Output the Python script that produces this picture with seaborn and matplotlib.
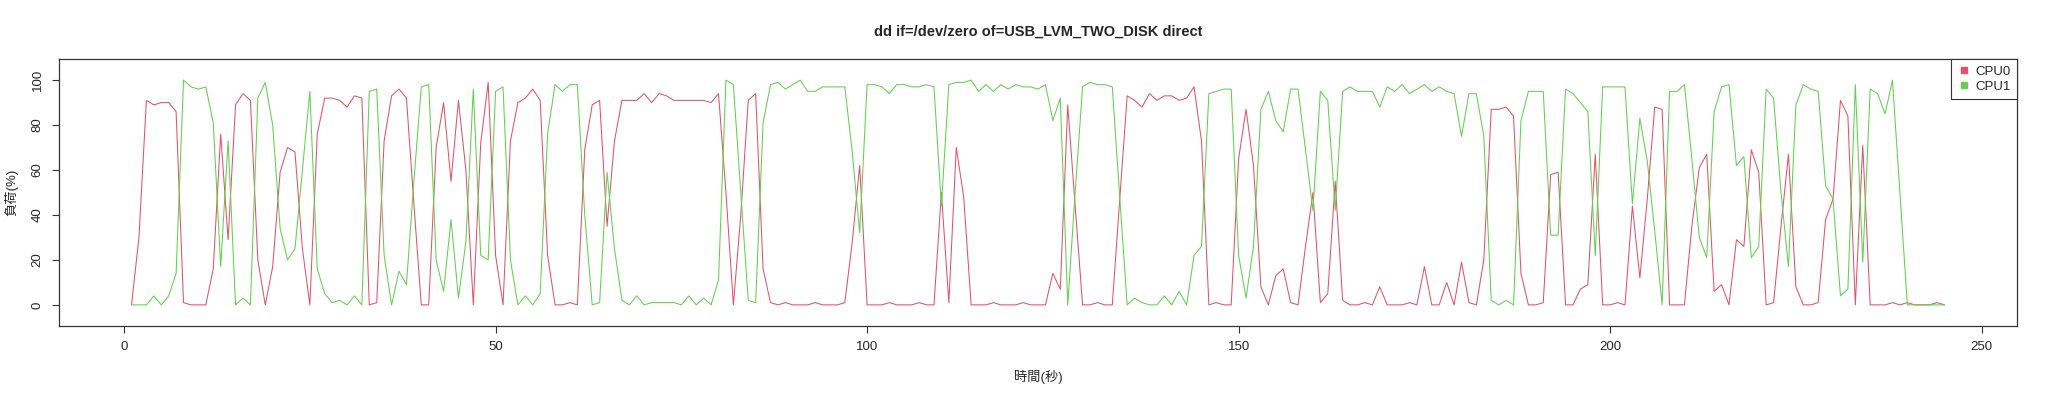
import numpy as np
import pandas as pd
import matplotlib
matplotlib.use("Agg")
import matplotlib.pyplot as plt
import seaborn as sns
from matplotlib.lines import Line2D

# 負荷データ (1秒ごと, %)
cpu0 = [0, 30, 91, 89, 90, 90, 86, 1, 0, 0, 0, 16, 76, 29, 89, 94, 91, 20, 0, 17,
        59, 70, 68, 25, 0, 76, 92, 92, 91, 88, 93, 92, 0, 1, 73, 93, 96, 92, 45, 0,
        0, 70, 90, 55, 91, 60, 0, 72, 99, 22, 0, 73, 90, 92, 96, 91, 22, 0, 0, 1,
        0, 69, 89, 91, 35, 73, 91, 91, 91, 94, 90, 94, 93, 91, 91, 91, 91, 91, 90, 94,
        50, 0, 40, 91, 94, 16, 1, 0, 1, 0, 0, 0, 1, 0, 0, 0, 1, 28, 62, 0,
        0, 0, 1, 0, 0, 0, 1, 0, 0, 50, 1, 70, 48, 0, 0, 0, 1, 0, 0, 0,
        1, 0, 0, 0, 14, 7, 89, 44, 0, 0, 1, 0, 0, 47, 93, 91, 88, 94, 91, 93,
        93, 91, 92, 97, 73, 0, 1, 0, 0, 65, 87, 62, 8, 0, 13, 16, 1, 0, 26, 50,
        1, 5, 55, 2, 0, 0, 1, 0, 8, 0, 0, 0, 1, 0, 17, 0, 0, 10, 0, 19,
        1, 0, 20, 87, 87, 88, 84, 14, 0, 0, 1, 58, 59, 0, 0, 7, 9, 67, 0, 0,
        1, 0, 44, 12, 47, 88, 87, 0, 0, 0, 35, 61, 67, 6, 9, 0, 29, 26, 69, 59,
        0, 1, 35, 67, 8, 0, 0, 1, 38, 47, 91, 84, 0, 71, 0, 0, 0, 1, 0, 1,
        0, 0, 0, 1, 0]
cpu1 = [0, 0, 0, 4, 0, 4, 14, 100, 97, 96, 97, 81, 17, 73, 0, 3, 0, 92, 99, 80,
        34, 20, 25, 60, 95, 16, 5, 1, 2, 0, 4, 0, 95, 96, 22, 0, 15, 9, 55, 97,
        98, 20, 6, 38, 3, 28, 96, 22, 20, 95, 97, 20, 0, 4, 0, 5, 76, 98, 95, 98,
        98, 40, 0, 1, 59, 25, 2, 0, 4, 0, 1, 1, 1, 1, 0, 4, 0, 3, 0, 11,
        100, 98, 50, 2, 1, 81, 98, 99, 96, 98, 100, 95, 95, 97, 97, 97, 97, 68, 32, 98,
        98, 97, 94, 98, 98, 97, 97, 98, 97, 44, 98, 99, 99, 100, 95, 98, 95, 98, 96, 98,
        97, 97, 96, 98, 82, 92, 0, 50, 97, 99, 98, 98, 97, 48, 0, 3, 1, 0, 0, 4,
        0, 6, 0, 22, 26, 94, 95, 96, 96, 22, 3, 26, 87, 95, 82, 77, 96, 96, 69, 42,
        95, 91, 42, 95, 97, 95, 95, 95, 88, 97, 95, 98, 94, 96, 98, 95, 97, 95, 94, 75,
        94, 94, 75, 2, 0, 2, 0, 82, 95, 95, 95, 31, 31, 96, 94, 90, 86, 22, 97, 97,
        97, 97, 45, 83, 64, 33, 0, 95, 95, 98, 65, 30, 21, 86, 97, 98, 62, 66, 21, 26,
        96, 92, 50, 17, 89, 98, 96, 95, 53, 47, 4, 7, 98, 19, 96, 94, 85, 100, 50, 0,
        0, 0, 0, 0, 0]
series = ["CPU0", "CPU1"]
colors = ["#DF536B", "#61D04F"]

t = np.arange(1, len(cpu0) + 1)
df = pd.DataFrame({"time": np.concatenate([t, t]),
                   "load": cpu0 + cpu1,
                   "cpu": ["CPU0"] * len(cpu0) + ["CPU1"] * len(cpu1)})

sns.set_style("ticks")
plt.rcParams['font.family'] = ['Liberation Sans', 'Noto Sans CJK JP', 'DejaVu Sans']

fig = plt.figure(figsize=(20.48, 4.0), dpi=100)
ax = fig.add_axes([59 / 2048, 1 - 326 / 400, (2017 - 59) / 2048, (326 - 59) / 400])

sns.lineplot(data=df, x="time", y="load", hue="cpu", hue_order=series,
             palette=colors, linewidth=0.75, legend=False, ax=ax)

ax.set_xlim(-8.76, 254.76)
ax.set_ylim(-9.4, 109.4)
ax.set_xticks([0, 50, 100, 150, 200, 250])
ax.set_yticks([0, 20, 40, 60, 80, 100])
for s in ax.spines.values():
    s.set_visible(True)
    s.set_color("#333333")
    s.set_linewidth(0.9)
ax.tick_params(length=5, width=0.8, color="#333333", labelsize=9.5, pad=6)
for lb in ax.get_yticklabels():
    lb.set_rotation(90)
    lb.set_va("center")

ax.set_title("dd if=/dev/zero of=USB_LVM_TWO_DISK direct", fontsize=10.5,
             fontweight="bold", pad=17)
ax.set_xlabel("時間(秒)", fontsize=9.5, labelpad=12)
ax.set_ylabel("負荷(%)", fontsize=9.5, labelpad=10)

handles = [Line2D([], [], marker="s", linestyle="none", color=c, markersize=5)
           for c in colors]
leg = ax.legend(handles, series, loc="upper right", borderaxespad=0,
                frameon=True, fancybox=False, framealpha=1, edgecolor="#333333",
                fontsize=9.5, handletextpad=0.3, borderpad=0.5, labelspacing=0.2,
                handlelength=1.0)
leg.get_frame().set_linewidth(0.8)

fig.savefig("out.png", dpi=100)
